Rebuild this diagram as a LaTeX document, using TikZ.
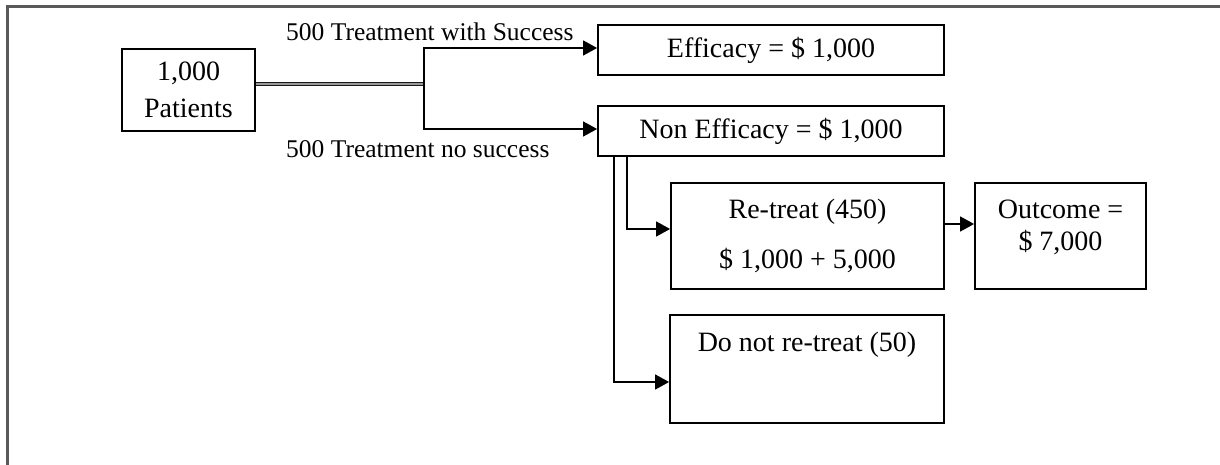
\documentclass[tikz,border=0pt]{standalone}
\usepackage{fontspec}
\setmainfont{Liberation Serif}
\usetikzlibrary{arrows.meta}
\begin{document}
\begin{tikzpicture}[x=1pt,y=-1pt,
  box/.style={draw, line width=1.8pt, inner sep=0pt, font=\fontsize{28}{32}\selectfont},
  txt/.style={inner sep=0pt, font=\fontsize{28}{32}\selectfont, align=center},
  lbl/.style={inner sep=0pt, font=\fontsize{25.5}{30}\selectfont},
  arr/.style={line width=1.3pt, -{Triangle[length=14pt,width=15pt]}},
  dbl/.style={draw=black!90, line width=1pt, double=black!40, double distance=1.3pt},
  frame/.style={draw=black!65, line width=3pt}]
\useasboundingbox (0,0) rectangle (1220,465);
% frame
\draw[frame] (7.5,466) -- (7.5,6.5) -- (1221,6.5);
% nodes
\node[box, minimum width=133pt, minimum height=82pt, align=center,
      font=\fontsize{28}{37}\selectfont] (pat) at (188.5,90) {1,000\\Patients};
\node[box, minimum width=346pt, minimum height=50pt] (eff) at (771,50) {Efficacy = \$ 1,000};
\node[box, minimum width=346pt, minimum height=50pt] (noneff) at (771,131) {Non Efficacy = \$ 1,000};
\node[box, minimum width=273pt, minimum height=106pt, align=center,
      font=\fontsize{28}{50}\selectfont] (retreat) at (807.5,236) {Re-treat (450)\\\$ 1,000 + 5,000};
\node[box, minimum width=171pt, minimum height=106pt] (out) at (1060.5,236) {};
\node[txt] (outtxt) at ([yshift=9pt]out.center) {Outcome =\\\$ 7,000};
\node[box, minimum width=274pt, minimum height=108pt] (dnr) at (807,369) {};
\node[txt] (dnrtxt) at ([yshift=24pt]dnr.center) {Do not re-treat (50)};
% labels
\node[lbl, anchor=base west] (lsucc) at (286,41) {500 Treatment with Success};
\node[lbl, anchor=base west] (lfail) at (286,158) {500 Treatment no success};
% connectors
\coordinate (split) at (424,84);
\draw[dbl] ([yshift=6pt]pat.east) -- (split);
\draw[arr] (split) |- ([yshift=2pt]eff.west);
\draw[arr] (split) |- ([yshift=2pt]noneff.west);
\draw[arr] ([xshift=30pt]noneff.south west) |- ([yshift=7pt]retreat.west);
\draw[arr] ([xshift=17pt]noneff.south west) |- ([yshift=-13pt]dnr.west);
\draw[arr] ([yshift=12pt]retreat.east) -- ([yshift=12pt]out.west);
\end{tikzpicture}
\end{document}
